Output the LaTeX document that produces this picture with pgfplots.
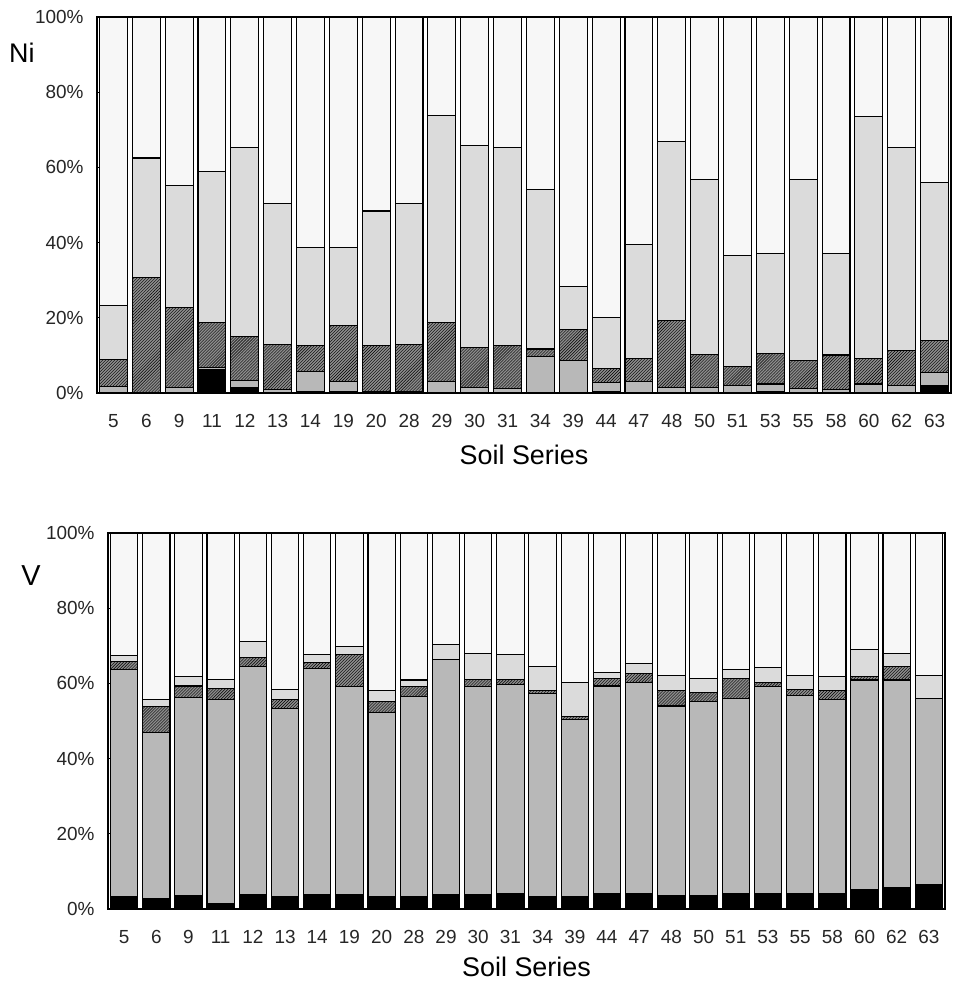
\documentclass[border=0pt]{standalone}
\usepackage{fontspec}
\setmainfont{Liberation Sans}
\usepackage{pgfplots}
\pgfplotsset{compat=1.18}
\usepackage{pgfplotstable}
\usetikzlibrary{patterns}

\pgfplotstableread{
x s1 s2 s3 s4 s5
0 0 1.8 7.0 14.4 76.8
1 0 0 30.7 31.8 37.5
2 0 1.5 21.2 32.6 44.7
3 6.2 0.6 11.9 40.3 41.0
4 1.5 1.8 11.7 50.3 34.7
5 0 1.0 11.8 37.5 49.7
6 0.5 5.2 6.9 26.2 61.2
7 0.5 2.5 14.9 20.9 61.2
8 0 0.5 12.1 35.8 51.6
9 0 0.5 12.5 37.3 49.7
10 0 3.0 15.7 55.0 26.3
11 0 1.5 10.6 53.8 34.1
12 0 1.2 11.4 52.7 34.7
13 0 9.7 2.0 42.4 45.9
14 0 8.6 8.4 11.3 71.7
15 0.3 2.5 3.7 13.6 79.9
16 0 3.0 6.2 30.3 60.5
17 0 1.5 17.7 47.7 33.1
18 0 1.5 8.8 46.5 43.2
19 0 1.9 5.1 29.6 63.4
20 0.5 1.9 8.1 26.6 62.9
21 0 1.2 7.4 48.2 43.2
22 0 1.0 9.1 27.0 62.9
23 0 2.4 6.8 64.4 26.4
24 0 1.9 9.3 54.0 34.8
25 2.0 3.5 8.4 42.0 44.1
}\nidata

\pgfplotstableread{
x s1 s2 s3 s4 s5
0 3.2 60.4 2.2 1.5 32.7
1 2.7 44.2 6.9 1.8 44.4
2 3.5 52.8 3.0 2.5 38.2
3 1.4 54.4 2.9 2.4 38.9
4 3.8 60.8 2.2 4.3 28.9
5 3.4 50.0 2.4 2.6 41.6
6 3.8 60.2 1.5 2.1 32.4
7 3.8 55.3 8.5 2.3 30.1
8 3.4 48.8 2.9 3.1 41.8
9 3.2 53.4 2.5 1.8 39.1
10 3.8 62.6 0 4.0 29.6
11 3.8 55.3 2.0 6.9 32.0
12 4.0 55.6 1.5 6.5 32.4
13 3.4 54.0 0.8 6.4 35.4
14 3.4 47.0 0.8 9.1 39.7
15 4.0 55.3 2.0 1.6 37.1
16 4.0 56.2 2.5 2.5 34.8
17 3.6 50.4 4.0 4.0 38.0
18 3.6 51.5 2.4 3.8 38.7
19 4.2 51.8 5.3 2.4 36.3
20 4.2 54.9 1.1 4.1 35.7
21 4.2 52.7 1.5 3.7 37.9
22 4.2 51.4 2.6 3.6 38.2
23 5.3 55.6 0.9 7.1 31.1
24 5.8 55.1 3.7 3.4 32.0
25 6.5 49.5 0 6.2 37.8
}\vdata

\pgfplotsset{
  soilaxis/.style={
    scale only axis, ybar stacked, bar width=0.85,
    xmin=-0.5, xmax=25.5, ymin=0, ymax=100,
    xtick={0,...,25},
    xticklabels={5,6,9,11,12,13,14,19,20,28,29,30,31,34,39,44,47,48,50,51,53,55,58,60,62,63},
    ytick={0,20,40,60,80,100},
    yticklabels={0\%,20\%,40\%,60\%,80\%,100\%},
    xtick style={draw=none},
    ytick pos=left, tick align=inside, major tick length=5bp,
    ytick style={black, line width=0.8pt},
    tick label style={font=\fontsize{19}{21}\selectfont, text=black!85},
    xticklabel style={yshift=-18bp},
    yticklabel style={xshift=-10bp},
    xlabel={Soil Series},
    xlabel style={font=\fontsize{27}{30}\selectfont, at={(axis description cs:0.5,0)}, anchor=center, yshift=-62bp},
    axis line style={line width=1.6pt},
    clip=false,
  },
  bs/.style={draw=black, line width=1.1pt},
}

\begin{document}
\begin{tikzpicture}
\path[use as bounding box] (0,0) rectangle (957bp,986bp);
\begin{axis}[soilaxis, at={(97bp,593bp)}, anchor=south west, width=854bp, height=376bp]
\addplot[bs, fill=black] table[x=x, y=s1]{\nidata};
\addplot[bs, fill=black!28] table[x=x, y=s2]{\nidata};
\addplot[bs, fill=black!45, postaction={pattern=north east lines}] table[x=x, y=s3]{\nidata};
\addplot[bs, fill=black!14] table[x=x, y=s4]{\nidata};
\addplot[bs, fill=black!3] table[x=x, y=s5]{\nidata};
\node[font=\fontsize{27}{30}\selectfont] at (axis description cs:-0.088,0.904) {Ni};
\end{axis}
\begin{axis}[soilaxis, at={(108bp,77bp)}, anchor=south west, width=837bp, height=376bp, xlabel style={yshift=4bp}]
\addplot[bs, fill=black] table[x=x, y=s1]{\vdata};
\addplot[bs, fill=black!28] table[x=x, y=s2]{\vdata};
\addplot[bs, fill=black!45, postaction={pattern=north east lines}] table[x=x, y=s3]{\vdata};
\addplot[bs, fill=black!14] table[x=x, y=s4]{\vdata};
\addplot[bs, fill=black!3] table[x=x, y=s5]{\vdata};
\node[font=\fontsize{29}{32}\selectfont] at (axis description cs:-0.092,0.886) {V};
\end{axis}
\end{tikzpicture}
\end{document}
